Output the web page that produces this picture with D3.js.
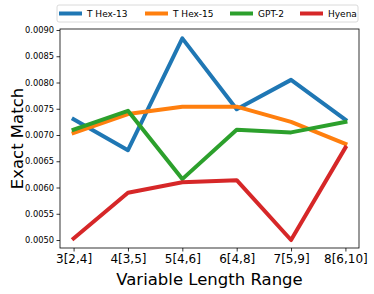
<!DOCTYPE html>
<html>
<head>
<meta charset="utf-8">
<script src="https://cdn.jsdelivr.net/npm/d3@7"></script>
<style>
  body { margin: 0; background: #fff; }
  text { font-family: "DejaVu Sans", sans-serif; fill: #000; }
</style>
</head>
<body>
<svg width="374" height="294"></svg>
<script>
const categories = ["3[2,4]", "4[3,5]", "5[4,6]", "6[4,8]", "7[5,9]", "8[6,10]"]
const seriesNames = ["T Hex-13", "T Hex-15", "GPT-2", "Hyena"]
const tHex13 = [0.00730, 0.00671, 0.00884, 0.00749, 0.00805, 0.00729]
const tHex15 = [0.00704, 0.00740, 0.00754, 0.00754, 0.00725, 0.00683]
const gpt2 = [0.00710, 0.00746, 0.00616, 0.00710, 0.00705, 0.00725]
const hyena = [0.00503, 0.00590, 0.00610, 0.00614, 0.00500, 0.00676]
const yTicks = [0.0050, 0.0055, 0.0060, 0.0065, 0.0070, 0.0075, 0.0080, 0.0085, 0.0090]
const colors = ["#1f77b4", "#ff7f0e", "#2ca02c", "#d62728"]

const series = [tHex13, tHex15, gpt2, hyena].map((v, i) => ({ name: seriesNames[i], values: v, color: colors[i] }))

const svg = d3.select("svg")
const plotLeft = 60, plotRight = 359, plotTop = 29, plotBottom = 248

// point positions with matplotlib-style 5% padding
const x = d3.scalePoint()
  .domain(categories)
  .range([plotLeft, plotRight])
  .padding(0.25)

const y = d3.scaleLinear()
  .domain([0.004848, 0.009019])
  .range([plotBottom, plotTop])

// y axis
const yAxis = svg.append("g")
  .attr("transform", "translate(" + plotLeft + ",0)")
  .call(d3.axisLeft(y).tickValues(yTicks).tickFormat(d3.format(".4f")).tickSize(3.5).tickPadding(2.5))
yAxis.select(".domain").remove()
yAxis.selectAll("text").style("font-size", "8.3px").style("font-family", "DejaVu Sans")
yAxis.selectAll("line").attr("stroke", "#000").attr("stroke-width", 0.8)

// x axis
const xAxis = svg.append("g")
  .attr("transform", "translate(0," + plotBottom + ")")
  .call(d3.axisBottom(x).tickSize(3.5).tickPadding(3))
xAxis.select(".domain").remove()
xAxis.selectAll("text").style("font-size", "12px").style("font-family", "DejaVu Sans")
xAxis.selectAll("line").attr("stroke", "#000").attr("stroke-width", 0.8)

// lines
const line = d3.line()
  .x((d, i) => x(categories[i]))
  .y(d => y(d))

svg.append("g").selectAll("path")
  .data(series)
  .enter()
  .append("path")
  .attr("d", d => line(d.values))
  .attr("fill", "none")
  .attr("stroke", d => d.color)
  .attr("stroke-width", 4)
  .attr("stroke-linejoin", "round")
  .attr("stroke-linecap", "square")

// frame
svg.append("rect")
  .attr("x", plotLeft).attr("y", plotTop)
  .attr("width", plotRight - plotLeft).attr("height", plotBottom - plotTop)
  .attr("fill", "none")
  .attr("stroke", "#000")
  .attr("stroke-width", 0.8)

// axis titles
svg.append("text")
  .attr("x", (plotLeft + plotRight) / 2)
  .attr("y", 285)
  .attr("text-anchor", "middle")
  .style("font-size", "16.5px")
  .text("Variable Length Range")

svg.append("text")
  .attr("transform", "translate(23," + (plotTop + plotBottom) / 2 + ") rotate(-90)")
  .attr("text-anchor", "middle")
  .style("font-size", "16.5px")
  .text("Exact Match")

// legend
const legend = svg.append("g")
legend.append("rect")
  .attr("x", 57).attr("y", 5)
  .attr("width", 301).attr("height", 17)
  .attr("rx", 2)
  .attr("fill", "#fff")
  .attr("fill-opacity", 0.8)
  .attr("stroke", "#d0d0d0")
  .attr("stroke-width", 0.8)

const legendX = [59, 145, 230, 300]
const item = legend.selectAll(".item")
  .data(series)
  .enter()
  .append("g")
  .attr("transform", (d, i) => "translate(" + legendX[i] + ",0)")
item.append("line")
  .attr("x1", 0).attr("x2", 23)
  .attr("y1", 13.5).attr("y2", 13.5)
  .attr("stroke", d => d.color)
  .attr("stroke-width", 4)
item.append("text")
  .attr("x", 28)
  .attr("y", 16.8)
  .style("font-size", "9px")
  .text(d => d.name)
</script>
</body>
</html>
